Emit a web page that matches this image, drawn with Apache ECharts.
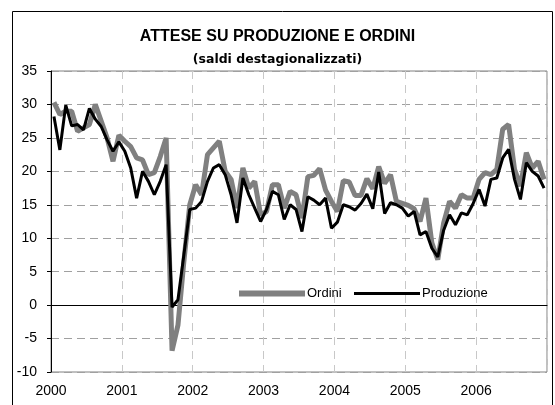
<!DOCTYPE html>
<html>
<head>
<meta charset="utf-8">
<script src="https://cdn.jsdelivr.net/npm/echarts@6/dist/echarts.min.js"></script>
<style>
  html, body { margin: 0; padding: 0; background: #fff; }
  #chart { width: 555px; height: 405px; }
</style>
</head>
<body>
<div id="chart"></div>
<script>
// anni (etichette asse x), un'etichetta ogni 12 mesi
const years = ['2000', '2001', '2002', '2003', '2004', '2005', '2006'];

// saldi mensili gen 2000 - dic 2006
const ordini = [
  30.3, 28.5, 29, 29, 26, 26.5, 27, 30, 27.5, 25, 21.5, 25.4,
  24.5, 23.7, 22, 21.7, 19.5, 19.8, 22.2, 25, -6.8, -3, 6.5, 15,
  18, 16.5, 22.5, 23.5, 24.5, 20, 18.8, 14.5, 20.5, 17.5, 18.5, 13.5,
  14, 18, 18, 14.5, 17, 16.5, 13, 19.2, 19.4, 20.4, 17.2, 15.5,
  14, 18.6, 18.4, 16.4, 16.4, 18.9, 17.4, 20.7, 18.2, 19.5, 15.5, 15.2,
  14.9, 14.4, 12.5, 16, 9.3, 6.8, 12.3, 15.5, 14.5, 16.5, 16, 16,
  18.8, 19.8, 19.5, 20.3, 26.3, 27, 20.3, 17.8, 22.8, 20.5, 21.5, 18.8
];
const produzione = [
  28.2, 23.2, 29.9, 26.8, 27, 26.2, 29.4, 27.8, 26.7, 24.7, 23, 24.4,
  23, 20.5, 16, 20, 18.5, 16.5, 18.5, 21, -0.3, 0.8, 7.5, 14.3,
  14.5, 15.5, 18.5, 20.5, 21, 19.5, 16.5, 12.3, 19, 16.5, 14.5, 12.5,
  14.3, 17, 16.5, 12.8, 15, 14.3, 11, 16.2, 15.7, 15, 16, 11.5,
  12.4, 15, 14.7, 14.2, 15.2, 16.6, 14.4, 19.9, 13.7, 15.3, 15, 14.5,
  13.3, 14, 10.5, 11, 8.5, 7.2, 11.2, 13.5, 12, 13.8, 13.5, 15.2,
  17.3, 14.8, 18.8, 19, 22, 23.3, 18.8, 15.8, 21.3, 20, 19.3, 17.5
];

const toPoints = arr => arr.map((v, i) => [i + 0.5, v]);

const chart = echarts.init(document.getElementById('chart'));
const option = {
  animation: false,
  textStyle: { fontFamily: 'Liberation Sans, Arial, sans-serif' },
  graphic: [{
    type: 'rect',
    shape: { x: 12.5, y: 11.5, width: 540, height: 400 },
    style: { fill: 'none', stroke: '#000', lineWidth: 1 },
    z: -1
  }],
  title: [{
    text: 'ATTESE SU PRODUZIONE E ORDINI',
    left: 'center',
    top: 24,
    textStyle: { fontSize: 16, fontWeight: 'bold', color: '#000', fontFamily: 'Liberation Sans' }
  }, {
    text: '(saldi destagionalizzati)',
    left: 'center',
    top: 48,
    textStyle: { fontSize: 12.5, fontWeight: 'bold', color: '#000', fontFamily: 'DejaVu Sans' }
  }],
  legend: [{
    data: ['Ordini'],
    left: 234,
    top: 282,
    icon: 'rect',
    itemWidth: 66,
    itemHeight: 6,
    itemGap: 0,
    textStyle: { fontSize: 13, color: '#000', padding: [0, 0, 0, -3] }
  }, {
    data: ['Produzione'],
    left: 349,
    top: 282,
    icon: 'rect',
    itemWidth: 66,
    itemHeight: 3,
    textStyle: { fontSize: 13, color: '#000', padding: [0, 0, 0, -3] }
  }],
  grid: {
    left: 51, right: 8, top: 71, bottom: 33,
    show: true, borderColor: '#808080', borderWidth: 1
  },
  xAxis: {
    type: 'value',
    min: 0,
    max: 84,
    interval: 12,
    axisLine: { show: true, lineStyle: { color: '#000', width: 1 } },
    axisTick: { show: false },
    axisLabel: {
      color: '#000',
      fontSize: 14,
      margin: 12,
      showMaxLabel: false,
      formatter: v => years[v / 12] || ''
    },
    splitLine: { show: true, lineStyle: { color: '#c8c8c8', type: [8, 6] } }
  },
  yAxis: {
    type: 'value',
    min: -10,
    max: 35,
    interval: 5,
    axisLine: { show: true, lineStyle: { color: '#000', width: 1 } },
    axisTick: { show: true, inside: false, length: 4, lineStyle: { color: '#000' } },
    axisLabel: { color: '#000', fontSize: 14, margin: 14 },
    splitLine: { show: true, lineStyle: { color: '#a0a0a0', type: [8, 5] } }
  },
  series: [{
    name: 'Ordini',
    type: 'line',
    data: toPoints(ordini),
    symbol: 'none',
    color: '#808080',
    lineStyle: { color: '#808080', width: 5 }
  }, {
    name: 'Produzione',
    type: 'line',
    data: toPoints(produzione),
    symbol: 'none',
    color: '#000',
    lineStyle: { color: '#000', width: 3 }
  }]
};
chart.setOption(option);
</script>
</body>
</html>
